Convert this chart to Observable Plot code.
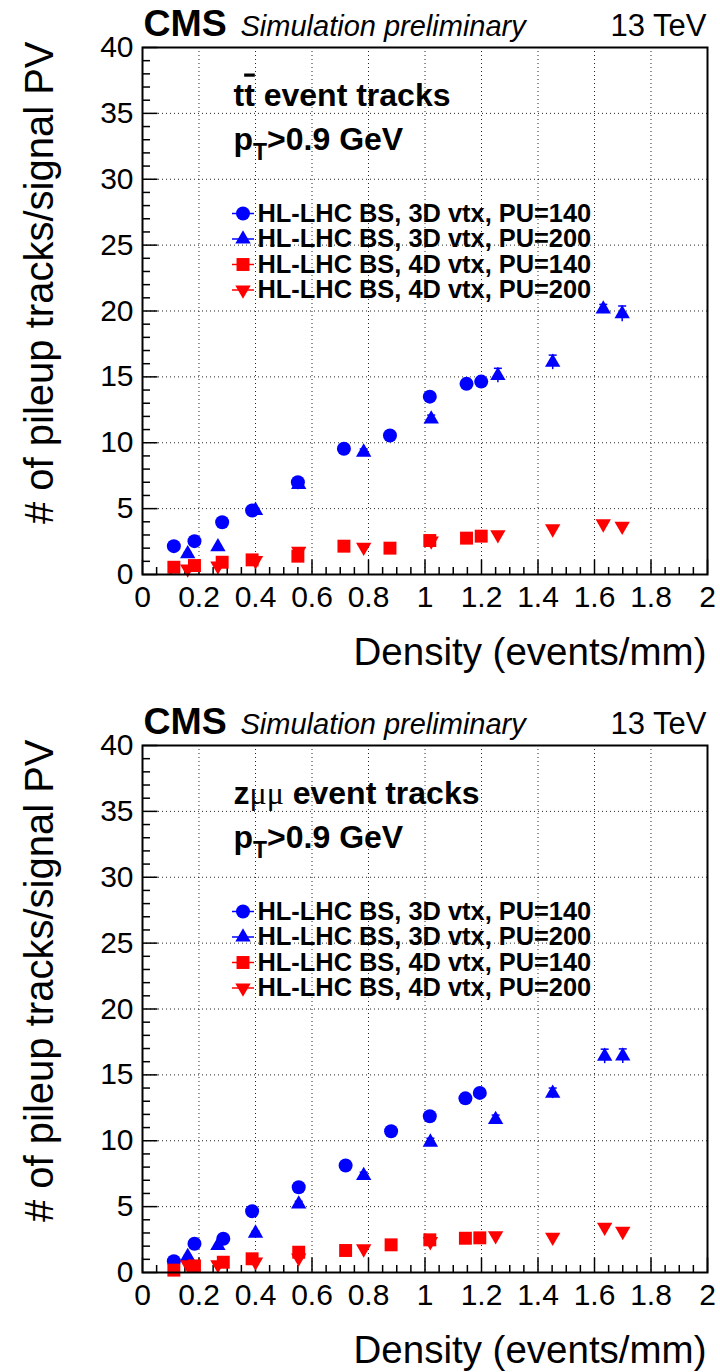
<!DOCTYPE html>
<html><head><meta charset="utf-8">
<script src="https://cdn.jsdelivr.net/npm/d3@7"></script>
<script src="https://cdn.jsdelivr.net/npm/@observablehq/plot@0.6"></script>
<style>
body{margin:0;padding:0;background:#fff;}
#chart{width:720px;}
svg{display:block;}
</style></head><body><div id="chart"></div>
<script>
// ---------- tick values and labels ----------
const xMajor = [0, 0.2, 0.4, 0.6, 0.8, 1, 1.2, 1.4, 1.6, 1.8, 2];
const xTickLabels = ["0", "0.2", "0.4", "0.6", "0.8", "1", "1.2", "1.4", "1.6", "1.8", "2"];
const yMajor = [0, 5, 10, 15, 20, 25, 30, 35, 40];
const yTickLabels = ["0", "5", "10", "15", "20", "25", "30", "35", "40"];
const xMinor = d3.range(0, 2.0001, 0.05).filter(v => Math.abs(v / 0.2 - Math.round(v / 0.2)) > 1e-6);
const yMinor = d3.range(0, 41, 1).filter(v => v % 5 !== 0);

// ---------- series labels ----------
const seriesLabels = ["HL-LHC BS, 3D vtx, PU=140", "HL-LHC BS, 3D vtx, PU=200", "HL-LHC BS, 4D vtx, PU=140", "HL-LHC BS, 4D vtx, PU=200"];

// ---------- ttbar panel data ----------
const ttDensityPU140 = [0.111, 0.184, 0.282, 0.388, 0.550, 0.713, 0.876, 1.017, 1.147, 1.199];
const tt3dPU140 = [2.15, 2.53, 3.97, 4.86, 7.00, 9.54, 10.55, 13.50, 14.47, 14.64];
const tt4dPU140 = [0.55, 0.68, 0.93, 1.11, 1.39, 2.15, 2.00, 2.58, 2.76, 2.91];
const ttDensityPU200 = [0.160, 0.267, 0.400, 0.553, 0.783, 1.022, 1.258, 1.452, 1.631, 1.698];
const tt3dPU200 = [1.57, 2.10, 4.86, 6.83, 9.28, 11.80, 15.10, 16.10, 20.15, 19.78];
const tt3dPU200Err = [0.10, 0.10, 0.15, 0.20, 0.25, 0.30, 0.55, 0.55, 0.35, 0.60];
const tt4dPU200 = [0.43, 0.65, 1.06, 1.77, 2.07, 2.55, 3.03, 3.47, 3.85, 3.67];

// ---------- Z->mumu panel data ----------
const zDensityPU140 = [0.111, 0.184, 0.286, 0.388, 0.553, 0.719, 0.880, 1.017, 1.143, 1.194];
const z3dPU140 = [0.86, 2.18, 2.56, 4.65, 6.47, 8.12, 10.72, 11.86, 13.22, 13.63];
const z4dPU140 = [0.18, 0.50, 0.78, 1.04, 1.54, 1.67, 2.10, 2.48, 2.60, 2.63];
const zDensityPU200 = [0.160, 0.267, 0.400, 0.553, 0.783, 1.019, 1.250, 1.452, 1.636, 1.700];
const z3dPU200 = [1.21, 2.05, 2.98, 5.20, 7.36, 9.89, 11.60, 13.60, 16.40, 16.42];
const z3dPU200Err = [0.10, 0.10, 0.15, 0.20, 0.25, 0.30, 0.35, 0.40, 0.55, 0.55];
const z4dPU200 = [0.60, 0.60, 0.80, 1.10, 1.80, 2.35, 2.80, 2.68, 3.44, 3.13];

// ---------- styling ----------
const BLUE = "#0000ff", RED = "#ff0000";
const FONT = "'Liberation Sans', Arial, Helvetica, sans-serif";

const tickRight = L => ({draw(ctx) { ctx.moveTo(0, 0); ctx.lineTo(L, 0); }});
const tickUp = L => ({draw(ctx) { ctx.moveTo(0, 0); ctx.lineTo(0, -L); }});
const hLine = L => ({draw(ctx) { ctx.moveTo(-L, 0); ctx.lineTo(L, 0); }});
const triDown = {draw(ctx, size) {
  const y = Math.sqrt(size / (3 * Math.sqrt(3)));
  ctx.moveTo(0, 2 * y); ctx.lineTo(-Math.sqrt(3) * y, -y); ctx.lineTo(Math.sqrt(3) * y, -y); ctx.closePath();
}};

const markerDefs = [
  {symbol: "circle", r: 7, color: BLUE},
  {symbol: "triangle", r: 5.7, color: BLUE},
  {symbol: "square", r: 7.3, color: RED},
  {symbol: triDown, r: 5.7, color: RED}
];

function makePanel(p) {
  const s140 = p.d140.map((x, i) => ({x, v3: p.v3d140[i], v4: p.v4d140[i]}));
  const s200 = p.d200.map((x, i) => ({x, v3: p.v3d200[i], e3: p.e3d200[i], v4: p.v4d200[i]}));
  const grid = {stroke: "#000", strokeWidth: 1, strokeDasharray: "1,3", strokeOpacity: 0.85};
  const tk = {fill: "none", stroke: "#000", strokeWidth: 1.5, r: 4};
  const marks = [
    Plot.ruleX(xMajor.slice(1, -1), grid),
    Plot.ruleY(yMajor.slice(1, -1), grid),
    Plot.dot(yMajor, {x: () => 0, y: d => d, symbol: tickRight(15), ...tk}),
    Plot.dot(yMinor, {x: () => 0, y: d => d, symbol: tickRight(7.5), ...tk}),
    Plot.dot(xMajor, {x: d => d, y: () => 0, symbol: tickUp(15), ...tk}),
    Plot.dot(xMinor, {x: d => d, y: () => 0, symbol: tickUp(7.5), ...tk}),
    Plot.axisY(yMajor, {tickSize: 0, tickPadding: 9, fontSize: 30, label: null, tickFormat: d => yTickLabels[yMajor.indexOf(d)]}),
    Plot.axisX(xMajor, {tickSize: 0, tickPadding: 11, fontSize: 30, label: null, tickFormat: d => xTickLabels[xMajor.indexOf(d)]}),
    // data
    Plot.dot(s140, {x: "x", y: "v3", symbol: "circle", r: 7, fill: BLUE}),
    Plot.ruleX(s200, {x: "x", y1: d => d.v3 - d.e3, y2: d => d.v3 + d.e3, stroke: BLUE, strokeWidth: 1.5}),
    Plot.dot(s200, {x: "x", y: d => d.v3 + d.e3, symbol: hLine(4), r: 4, fill: "none", stroke: BLUE, strokeWidth: 1.5}),
    Plot.dot(s200, {x: "x", y: "v3", symbol: "triangle", r: 5.7, fill: BLUE}),
    Plot.dot(s140, {x: "x", y: "v4", symbol: "square", r: 7.3, fill: RED}),
    Plot.dot(s200, {x: "x", y: "v4", symbol: triDown, r: 5.7, fill: RED}),
    Plot.frame({stroke: "#000", strokeWidth: 2}),
    // header
    Plot.text(["CMS"], {frameAnchor: "top-left", textAnchor: "start", lineAnchor: "bottom", dx: 1, dy: -12, fontSize: 37.5, fontWeight: "bold"}),
    Plot.text(["Simulation preliminary"], {frameAnchor: "top-left", textAnchor: "start", lineAnchor: "bottom", dx: 98, dy: -12, fontSize: 29, fontStyle: "italic"}),
    Plot.text(["13 TeV"], {frameAnchor: "top-right", textAnchor: "end", lineAnchor: "bottom", dx: -1, dy: -12, fontSize: 31}),
    // axis titles
    Plot.text(["Density (events/mm)"], {frameAnchor: "bottom-right", textAnchor: "end", lineAnchor: "middle", dx: -1, dy: 78, fontSize: 38.5}),
    Plot.text(["# of pileup tracks/signal PV"], {frameAnchor: "top-left", textAnchor: "end", lineAnchor: "middle", rotate: -90, dx: -102, dy: -6, fontSize: 40}),
    // in-plot labels (rich text filled in below)
    Plot.text(["@@TITLE@@"], {frameAnchor: "top-left", textAnchor: "start", lineAnchor: "bottom", dx: 91, dy: 58, fontSize: 32, fontWeight: "bold"}),
    Plot.text(["@@PT@@"], {frameAnchor: "top-left", textAnchor: "start", lineAnchor: "bottom", dx: 91, dy: 102, fontSize: 32, fontWeight: "bold"})
  ];
  seriesLabels.forEach((label, i) => {
    const m = markerDefs[i];
    const dy = 166 + i * 25.5;
    marks.push(Plot.dot([0], {frameAnchor: "top-left", dx: 100.5, dy, symbol: hLine(11), r: 4, fill: "none", stroke: m.color, strokeWidth: 1.5}));
    marks.push(Plot.dot([0], {frameAnchor: "top-left", dx: 100.5, dy, symbol: m.symbol, r: m.r, fill: m.color}));
    marks.push(Plot.text([label], {frameAnchor: "top-left", textAnchor: "start", lineAnchor: "middle", dx: 115, dy, fontSize: 25.4, fontWeight: "bold"}));
  });
  const svg = Plot.plot({
    width: 720, height: p.height,
    marginLeft: 142, marginRight: 13, marginTop: 47, marginBottom: p.height - 47 - 527,
    x: {domain: [0, 2]}, y: {domain: [0, 40]},
    style: {fontFamily: FONT, background: "white", color: "black", overflow: "visible", fontSize: "30px"},
    marks
  });
  const fill = (placeholder, parts) => {
    const t = d3.select(svg).selectAll("text").filter(function() { return this.textContent === placeholder; });
    t.text(null);
    for (const part of parts) {
      const s = t.append("tspan").text(part.text);
      for (const [k, v] of Object.entries(part.attrs || {})) s.attr(k, v);
    }
  };
  fill("@@TITLE@@", p.titleParts);
  fill("@@PT@@", [
    {text: "p"},
    {text: "T", attrs: {dy: 10, "font-size": "23px"}},
    {text: ">0.9 GeV", attrs: {dy: -10}}
  ]);
  return svg;
}

const chart = document.getElementById("chart");
chart.appendChild(makePanel({
  height: 698,
  d140: ttDensityPU140, v3d140: tt3dPU140, v4d140: tt4dPU140,
  d200: ttDensityPU200, v3d200: tt3dPU200, e3d200: tt3dPU200Err, v4d200: tt4dPU200,
  titleParts: [{text: "t"}, {text: "t", attrs: {style: "text-decoration: overline"}}, {text: " event tracks"}]
}));
chart.appendChild(makePanel({
  height: 674,
  d140: zDensityPU140, v3d140: z3dPU140, v4d140: z4dPU140,
  d200: zDensityPU200, v3d200: z3dPU200, e3d200: z3dPU200Err, v4d200: z4dPU200,
  titleParts: [{text: "z"}, {text: "μμ", attrs: {"font-family": "'Liberation Serif', serif", "font-weight": "normal"}}, {text: " event tracks"}]
}));
</script>
</body></html>
